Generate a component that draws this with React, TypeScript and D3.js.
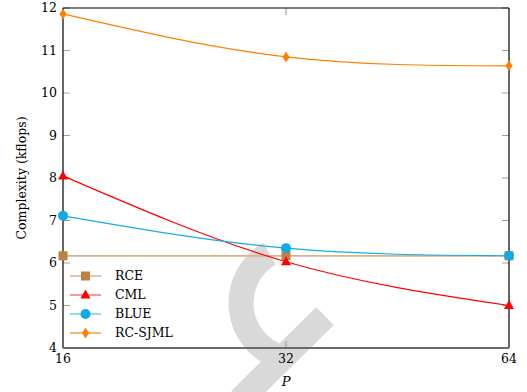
import * as d3 from "d3";
import React, { useEffect, useRef } from "react";

const xValues = [16, 32, 64];
const yTicks = [4, 5, 6, 7, 8, 9, 10, 11, 12];

const rce = [6.17, 6.17, 6.17];
const cml = [8.05, 6.03, 5.0];
const blue = [7.11, 6.35, 6.17];
const rcSjml = [11.86, 10.85, 10.64];

interface Series {
    name: string;
    values: number[];
    line: string;
    legendLine: string;
    marker: string;
    shape: "square" | "triangle" | "circle" | "diamond";
}

const series: Series[] = [
    { name: "RCE", values: rce, line: "#d9b38c", legendLine: "#d9b38c", marker: "#bf8040", shape: "square" },
    { name: "CML", values: cml, line: "#ff0000", legendLine: "#ff7070", marker: "#ff0000", shape: "triangle" },
    { name: "BLUE", values: blue, line: "#14ade8", legendLine: "#72cdf0", marker: "#0fa9e6", shape: "circle" },
    { name: "RC-SJML", values: rcSjml, line: "#ff8000", legendLine: "#ff9a33", marker: "#ff8000", shape: "diamond" },
];

const W = 527;
const H = 392;
const FONT = "'DejaVu Serif', serif";
const FS = 12.5;

function drawMarker(
    g: d3.Selection<SVGGElement, unknown, null, undefined>,
    shape: Series["shape"],
    x: number,
    y: number,
    color: string
) {
    if (shape === "square") {
        g.append("rect").attr("x", x - 4.5).attr("y", y - 4.5).attr("width", 9).attr("height", 9).attr("fill", color);
    } else if (shape === "circle") {
        g.append("circle").attr("cx", x).attr("cy", y).attr("r", 5).attr("fill", color);
    } else if (shape === "triangle") {
        g.append("path")
            .attr("d", `M${x},${y - 5.5}L${x + 5},${y + 3.5}L${x - 5},${y + 3.5}Z`)
            .attr("fill", color);
    } else {
        g.append("path")
            .attr("d", `M${x},${y - 5.5}L${x + 3.5},${y}L${x},${y + 5.5}L${x - 3.5},${y}Z`)
            .attr("fill", color);
    }
}

const App: React.FC = () => {
    const svgRef = useRef<SVGSVGElement>(null);

    useEffect(() => {
        if (!svgRef.current) return;
        const svg = d3.select(svgRef.current);
        svg.selectAll("*").remove();

        const left = 63;
        const right = 509;
        const top = 8;
        const bottom = 348;

        const x = d3.scaleLog().base(2).domain([16, 64]).range([left, right]);
        const y = d3.scaleLinear().domain([4, 12]).range([bottom, top]);

        // gray watermark behind everything
        const wm = svg.append("g").attr("fill", "none").attr("stroke", "#d9d9d9").attr("stroke-width", 25);
        const arc = d3.path();
        arc.arc(298, 303, 57, (-120 * Math.PI) / 180, (110 * Math.PI) / 180, true);
        wm.append("path").attr("d", arc.toString());
        wm.append("line").attr("x1", 325).attr("y1", 316).attr("x2", 240).attr("y2", 400);

        // ticks
        const tickColor = "#a0a0a0";
        yTicks.forEach((t) => {
            svg.append("line").attr("x1", left).attr("x2", left + 7).attr("y1", y(t)).attr("y2", y(t))
                .attr("stroke", tickColor).attr("stroke-width", 1);
            svg.append("line").attr("x1", right - 7).attr("x2", right).attr("y1", y(t)).attr("y2", y(t))
                .attr("stroke", tickColor).attr("stroke-width", 1);
            svg.append("text").attr("x", left - 6).attr("y", y(t)).attr("dy", "0.35em")
                .attr("text-anchor", "end").attr("font-family", FONT).attr("font-size", FS).text(t);
        });
        xValues.forEach((v) => {
            if (v !== 16 && v !== 64) {
                svg.append("line").attr("x1", x(v)).attr("x2", x(v)).attr("y1", top).attr("y2", top + 7)
                    .attr("stroke", tickColor).attr("stroke-width", 1.2);
                svg.append("line").attr("x1", x(v)).attr("x2", x(v)).attr("y1", bottom - 7).attr("y2", bottom)
                    .attr("stroke", tickColor).attr("stroke-width", 1.2);
            }
            svg.append("text").attr("x", x(v)).attr("y", bottom + 15)
                .attr("text-anchor", "middle").attr("font-family", FONT).attr("font-size", FS).text(v);
        });

        // axes frame
        svg.append("line").attr("x1", left).attr("x2", right).attr("y1", top).attr("y2", top)
            .attr("stroke", "#000").attr("stroke-width", 1.2);
        svg.append("line").attr("x1", left).attr("x2", left).attr("y1", top).attr("y2", bottom)
            .attr("stroke", "#000").attr("stroke-width", 1.2);
        svg.append("line").attr("x1", right).attr("x2", right).attr("y1", top).attr("y2", bottom)
            .attr("stroke", "#000").attr("stroke-width", 1.2);
        svg.append("line").attr("x1", left).attr("x2", right).attr("y1", bottom).attr("y2", bottom)
            .attr("stroke", "#6a6a6a").attr("stroke-width", 1.8);

        // axis labels
        svg.append("text").attr("transform", `translate(22,${(top + bottom) / 2}) rotate(-90)`)
            .attr("dy", "0.35em").attr("text-anchor", "middle").attr("font-family", FONT)
            .attr("font-size", FS).text("Complexity (kflops)");
        svg.append("text").attr("x", x(32)).attr("y", 386).attr("text-anchor", "middle")
            .attr("font-family", FONT).attr("font-style", "italic").attr("font-size", 13).text("P");

        // series
        const lineGen = d3.line<number>()
            .x((_, i) => x(xValues[i]))
            .y((d) => y(d))
            .curve(d3.curveNatural);

        series.forEach((s) => {
            svg.append("path").datum(s.values).attr("fill", "none").attr("stroke", s.line)
                .attr("stroke-width", s.shape === "square" ? 1.8 : 1.2).attr("d", lineGen);
        });
        const markers = svg.append("g");
        series.forEach((s) => {
            s.values.forEach((v, i) => drawMarker(markers, s.shape, x(xValues[i]), y(v), s.marker));
        });

        // legend
        const legend = svg.append("g");
        series.forEach((s, i) => {
            const ly = 276 + i * 19;
            legend.append("line").attr("x1", 70).attr("x2", 101).attr("y1", ly).attr("y2", ly)
                .attr("stroke", s.legendLine).attr("stroke-width", 1.5);
            drawMarker(legend, s.shape, 85.5, ly, s.marker);
            legend.append("text").attr("x", 115).attr("y", ly).attr("dy", "0.35em")
                .attr("font-family", FONT).attr("font-size", FS).text(s.name);
        });
    }, []);

    return (
        <svg
            ref={svgRef}
            width={W}
            height={H}
            style={{ position: "absolute", left: 0, top: 0, background: "#fff" }}
        />
    );
};

export default App;
